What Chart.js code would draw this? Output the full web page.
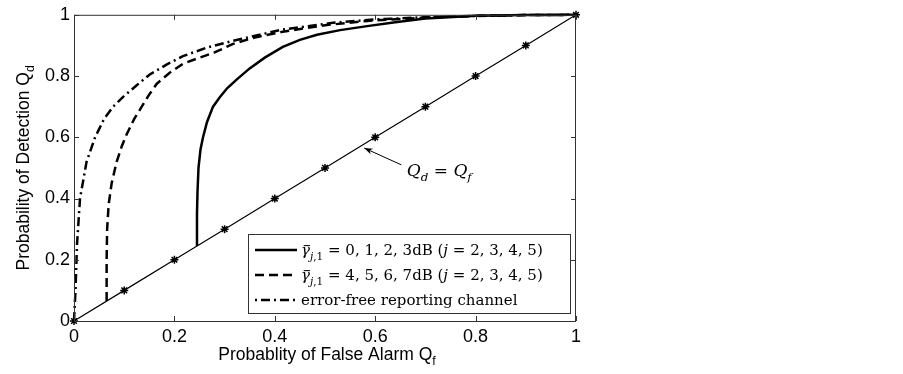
<!DOCTYPE html>
<html>
<head>
<meta charset="utf-8">
<script src="https://cdn.jsdelivr.net/npm/chart.js@4.4.1/dist/chart.umd.min.js"></script>
<style>
  html, body { margin: 0; padding: 0; background: #fff; }
  #wrap { width: 903px; height: 374px; }
</style>
</head>
<body>
<div id="wrap"><canvas id="rocChart" width="903" height="374"></canvas></div>
<script>
// ROC data (Qf = false alarm, Qd = detection)
const lowSnrQf = [0.245, 0.245, 0.246, 0.248, 0.252, 0.257, 0.265, 0.277, 0.29, 0.305, 0.325, 0.35, 0.38, 0.416, 0.45, 0.484, 0.53, 0.584, 0.64, 0.7, 0.8, 0.9, 1];
const lowSnrQd = [0.245, 0.35, 0.42, 0.5, 0.56, 0.6, 0.65, 0.7, 0.73, 0.76, 0.79, 0.825, 0.86, 0.895, 0.918, 0.935, 0.95, 0.963, 0.976, 0.988, 0.997, 0.999, 1];

const highSnrQf = [0.065, 0.065, 0.066, 0.069, 0.075, 0.085, 0.095, 0.105, 0.12, 0.135, 0.15, 0.165, 0.19, 0.217, 0.25, 0.28, 0.317, 0.36, 0.416, 0.5, 0.584, 0.7, 0.8, 0.9, 1];
const highSnrQd = [0.065, 0.2, 0.3, 0.38, 0.45, 0.52, 0.57, 0.61, 0.66, 0.7, 0.74, 0.775, 0.81, 0.84, 0.86, 0.877, 0.905, 0.926, 0.945, 0.966, 0.98, 0.991, 0.997, 0.999, 1];

const errorFreeQf = [0, 0.003, 0.006, 0.012, 0.025, 0.042, 0.06, 0.078, 0.1, 0.125, 0.151, 0.185, 0.217, 0.265, 0.317, 0.37, 0.416, 0.516, 0.6, 0.7, 0.8, 0.9, 1];
const errorFreeQd = [0, 0.1, 0.25, 0.4, 0.52, 0.6, 0.66, 0.7, 0.735, 0.77, 0.805, 0.838, 0.865, 0.893, 0.915, 0.935, 0.952, 0.974, 0.985, 0.992, 0.996, 0.999, 1];

const diagonalValues = [0, 0.1, 0.2, 0.3, 0.4, 0.5, 0.6, 0.7, 0.8, 0.9, 1];

const xTicks = [0, 0.2, 0.4, 0.6, 0.8, 1];
const yTicks = [0, 0.2, 0.4, 0.6, 0.8, 1];

const toPoints = (xs, ys) => xs.map((x, i) => ({ x: x, y: ys[i] }));

const sansFont = '"Liberation Sans", Arial, sans-serif';
const serifFont = '"DejaVu Serif", "Liberation Serif", serif';

// draw text made of pieces: [text, style]; style letters: i = italic, s = subscript, b = bar over
function drawRich(ctx, parts, x, y, size, family, align) {
  const widths = parts.map(([t, st]) => {
    ctx.font = fontFor(st, size, family);
    return ctx.measureText(t).width;
  });
  const total = widths.reduce((a, b) => a + b, 0);
  let cx = align === 'center' ? x - total / 2 : x;
  parts.forEach(([t, st], i) => {
    ctx.font = fontFor(st, size, family);
    const dy = st.indexOf('s') >= 0 ? size * 0.3 : 0;
    ctx.fillText(t, cx, y + dy);
    if (st.indexOf('b') >= 0) {
      ctx.fillRect(cx + widths[i] * 0.3, y - size * 0.66, widths[i] * 0.7, Math.max(1, size * 0.07));
    }
    cx += widths[i];
  });
}
function fontFor(st, size, family) {
  const sub = st.indexOf('s') >= 0;
  const ital = st.indexOf('i') >= 0;
  return (ital ? 'italic ' : '') + (sub ? size * 0.7 : size).toFixed(1) + 'px ' + family;
}

const legendRows = [
  { dash: [], parts: [['γ', 'ib'], ['j', 'si'], [',1', 's'], [' = 0, 1, 2, 3dB (', ''], ['j', 'i'], [' = 2, 3, 4, 5)', '']] },
  { dash: [9, 5], parts: [['γ', 'ib'], ['j', 'si'], [',1', 's'], [' = 4, 5, 6, 7dB (', ''], ['j', 'i'], [' = 2, 3, 4, 5)', '']] },
  { dash: [2, 4, 9, 4], parts: [['error-free reporting channel', '']] }
];

// box, inward ticks, axis titles, legend and the Qd = Qf note
const figurePlugin = {
  id: 'figureExtras',
  afterDraw(chart) {
    const ctx = chart.ctx;
    const a = chart.chartArea;
    const xs = chart.scales.x, ys = chart.scales.y;
    ctx.save();

    ctx.strokeStyle = '#333';
    ctx.lineWidth = 1;
    ctx.setLineDash([]);
    ctx.strokeRect(a.left + 0.5, a.top + 0.5, a.right - a.left - 1, a.bottom - a.top);
    ctx.beginPath();
    xTicks.forEach(v => {
      const px = Math.round(xs.getPixelForValue(v)) + 0.5;
      ctx.moveTo(px, a.bottom); ctx.lineTo(px, a.bottom - 5);
      ctx.moveTo(px, a.top); ctx.lineTo(px, a.top + 5);
    });
    yTicks.forEach(v => {
      const py = Math.round(ys.getPixelForValue(v)) + 0.5;
      ctx.moveTo(a.left, py); ctx.lineTo(a.left + 5, py);
      ctx.moveTo(a.right, py); ctx.lineTo(a.right - 5, py);
    });
    ctx.stroke();

    // axis titles
    ctx.fillStyle = '#000';
    ctx.textBaseline = 'alphabetic';
    ctx.textAlign = 'left';
    drawRich(ctx, [['Probablity of False Alarm Q', ''], ['f', 's']], (a.left + a.right) / 2 + 2, 360, 17.5, sansFont, 'center');
    ctx.save();
    ctx.translate(29, (a.top + a.bottom) / 2);
    ctx.rotate(-Math.PI / 2);
    drawRich(ctx, [['Probability of Detection Q', ''], ['d', 's']], 0, 0, 17.5, sansFont, 'center');
    ctx.restore();

    // legend
    const lg = { left: 248, top: 234, right: 571, bottom: 314 };
    ctx.fillStyle = '#fff';
    ctx.fillRect(lg.left, lg.top, lg.right - lg.left, lg.bottom - lg.top);
    ctx.strokeStyle = '#333';
    ctx.lineWidth = 1;
    ctx.strokeRect(lg.left + 0.5, lg.top + 0.5, lg.right - lg.left - 1, lg.bottom - lg.top - 1);
    legendRows.forEach((row, i) => {
      const y = lg.top + 16 + i * 25;
      ctx.strokeStyle = '#000';
      ctx.lineWidth = 2.5;
      ctx.setLineDash(row.dash);
      ctx.beginPath();
      ctx.moveTo(lg.left + 7, y);
      ctx.lineTo(lg.left + 49, y);
      ctx.stroke();
      ctx.setLineDash([]);
      ctx.fillStyle = '#000';
      drawRich(ctx, row.parts, lg.left + 53, y + 5, 15, serifFont, 'left');
    });

    // arrow note
    const tipX = xs.getPixelForValue(0.578), tipY = ys.getPixelForValue(0.565);
    const tailX = xs.getPixelForValue(0.652), tailY = ys.getPixelForValue(0.51);
    ctx.strokeStyle = '#000';
    ctx.lineWidth = 1;
    ctx.beginPath();
    ctx.moveTo(tailX, tailY);
    ctx.lineTo(tipX, tipY);
    ctx.stroke();
    const ang = Math.atan2(tipY - tailY, tipX - tailX);
    ctx.beginPath();
    ctx.moveTo(tipX, tipY);
    ctx.lineTo(tipX - 9 * Math.cos(ang - 0.35), tipY - 9 * Math.sin(ang - 0.35));
    ctx.lineTo(tipX - 6 * Math.cos(ang), tipY - 6 * Math.sin(ang));
    ctx.lineTo(tipX - 9 * Math.cos(ang + 0.35), tipY - 9 * Math.sin(ang + 0.35));
    ctx.closePath();
    ctx.fillStyle = '#000';
    ctx.fill();
    drawRich(ctx, [['Q', 'i'], ['d', 'si'], [' = ', ''], ['Q', 'i'], ['f', 'si']],
      xs.getPixelForValue(0.663), ys.getPixelForValue(0.49) + 5, 17, serifFont, 'left');

    ctx.restore();
  }
};

const curveStyle = { borderColor: '#000', borderWidth: 2.5, pointRadius: 0, fill: false, tension: 0, clip: 6 };

new Chart(document.getElementById('rocChart'), {
  type: 'line',
  data: {
    datasets: [
      { label: 'Qd = Qf', data: toPoints(diagonalValues, diagonalValues), borderColor: '#000', borderWidth: 1.2,
        pointStyle: 'star', pointRadius: 4, pointBorderWidth: 1.5, pointBorderColor: '#000', fill: false, clip: 8 },
      Object.assign({ label: '0, 1, 2, 3dB', data: toPoints(lowSnrQf, lowSnrQd) }, curveStyle),
      Object.assign({ label: '4, 5, 6, 7dB', data: toPoints(highSnrQf, highSnrQd), borderDash: [9, 5] }, curveStyle),
      Object.assign({ label: 'error-free', data: toPoints(errorFreeQf, errorFreeQd), borderDash: [9, 4, 2, 4] }, curveStyle)
    ]
  },
  options: {
    responsive: false,
    animation: false,
    layout: { padding: { top: 10, right: 327, left: 0, bottom: 0 } },
    plugins: { legend: { display: false }, tooltip: { enabled: false } },
    scales: {
      x: {
        type: 'linear', min: 0, max: 1,
        afterFit: s => { s.height = 53; },
        afterBuildTicks: s => { s.ticks = xTicks.map(v => ({ value: v })); },
        grid: { display: false, drawTicks: false },
        border: { display: false },
        ticks: { color: '#000', padding: 5, font: { family: sansFont, size: 18 }, callback: v => String(v) }
      },
      y: {
        type: 'linear', min: 0, max: 1,
        afterFit: s => { s.width = 74; },
        afterBuildTicks: s => { s.ticks = yTicks.map(v => ({ value: v })); },
        grid: { display: false, drawTicks: false },
        border: { display: false },
        ticks: { color: '#000', padding: 4, font: { family: sansFont, size: 18 }, callback: v => String(v) }
      }
    }
  },
  plugins: [figurePlugin]
});
</script>
</body>
</html>
